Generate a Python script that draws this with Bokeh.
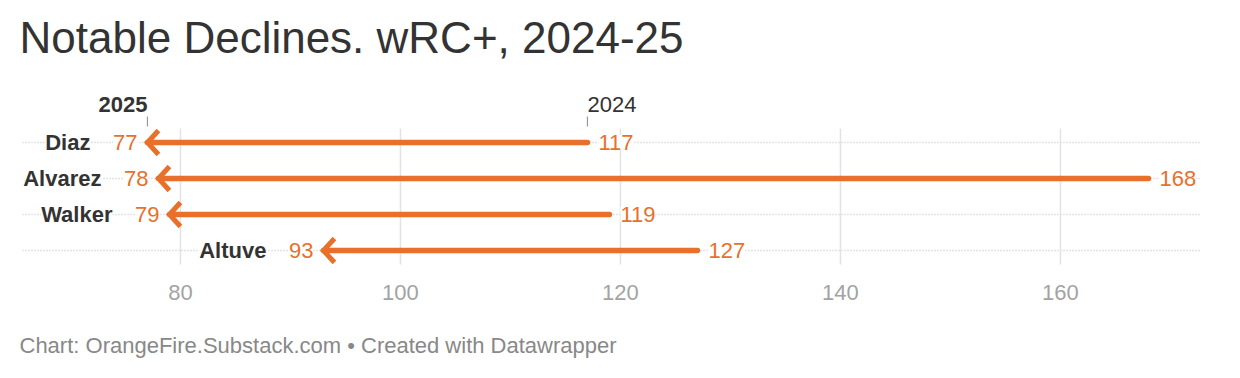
from bokeh.plotting import figure
from bokeh.models import ColumnDataSource, Range1d, Title
from bokeh.core.properties import value
from bokeh.embed import file_html
from bokeh.resources import INLINE

# ---- data ----
players = ["Diaz", "Alvarez", "Walker", "Altuve"]
wrc_2024 = [117, 168, 119, 127]
wrc_2025 = [77, 78, 79, 93]
x_ticks = [80, 100, 120, 140, 160]
year_labels = ["2025", "2024"]
title_text = "Notable Declines. wRC+, 2024-25"
footer_text = "Chart: OrangeFire.Substack.com \u2022 Created with Datawrapper"

# ---- style ----
ORANGE = "#e8702a"
DARK = "#333333"
FONT = "Liberation Sans"
W, H = 1232, 370
MB_L, MB_R, MB_T, MB_B = 22, 32, 71, 98
X_LO, X_HI = 65.64, 172.73
Y_TOP, Y_BOT = -1.972, 3.611          # row units (inverted)
frame_w = W - MB_L - MB_R
frame_h = H - MB_T - MB_B
px_x = frame_w / (X_HI - X_LO)
px_y = frame_h / (Y_BOT - Y_TOP)

rows = list(range(len(players)))
head_dx = 11 / px_x
head_dy = 12 / px_y

src = ColumnDataSource(dict(
    player=players, y=rows, v24=wrc_2024, v25=wrc_2025,
    l24=[str(v) for v in wrc_2024], l25=[str(v) for v in wrc_2025],
))
heads = ColumnDataSource(dict(
    xs=[[v + head_dx, v, v + head_dx] for v in wrc_2025],
    ys=[[r - head_dy, r, r + head_dy] for r in rows],
))

p = figure(width=W, height=H, output_backend="svg", toolbar_location=None,
           x_range=Range1d(X_LO, X_HI), y_range=Range1d(Y_BOT, Y_TOP),
           y_axis_location=None, title=title_text,
           min_border_left=MB_L, min_border_right=MB_R,
           min_border_top=MB_T, min_border_bottom=MB_B)
p.outline_line_color = None
p.xgrid.visible = False
p.ygrid.visible = False

p.title.text_font = FONT
p.title.text_font_size = "44px"
p.title.text_font_style = "normal"
p.title.text_color = DARK
p.title.align = "left"
p.title.offset = -3
p.title.standoff = 19

p.xaxis.ticker = x_ticks
p.xaxis.axis_line_color = None
p.xaxis.major_tick_line_color = None
p.xaxis.minor_tick_line_color = None
p.xaxis.major_label_text_font = FONT
p.xaxis.major_label_text_font_size = "22px"
p.xaxis.major_label_text_color = "#a3a3a3"
p.xaxis.major_label_standoff = 6

# spacer between the axis and the source line, then the source line
p.add_layout(Title(text=" ", text_font=FONT, text_font_size="22px", standoff=0), "below")
p.add_layout(Title(text=footer_text, text_font=FONT, text_font_size="22px",
                   text_font_style="normal", text_color="#888888",
                   align="left", offset=-3, standoff=2), "below")

# dotted row lines
p.hspan(y="y", source=src, line_color="#c8c8c8", line_width=1.5, line_dash="1 2")

# vertical grid lines
grid_top = -14 / px_y
grid_bot = rows[-1] + 14 / px_y
p.segment(x0=x_ticks, x1=x_ticks, y0=[grid_top] * len(x_ticks), y1=[grid_bot] * len(x_ticks),
          line_color="#e3e3e3", line_width=1.5)

# shafts
p.segment(x0="v24", x1="v25", y0="y", y1="y", source=src,
          line_color=ORANGE, line_width=5.5, line_cap="round")
# arrow heads
p.multi_line(xs="xs", ys="ys", source=heads, line_color=ORANGE, line_width=5,
             line_join="miter", line_cap="butt")

F = value(FONT)
# value labels
p.text(x="v25", y="y", text="l25", source=src, x_offset=-10, text_align="right",
       text_baseline="middle", text_font=F, text_font_size="22px", text_color=ORANGE,
       background_fill_color="white")
p.text(x="v24", y="y", text="l24", source=src, x_offset=11, text_align="left",
       text_baseline="middle", text_font=F, text_font_size="22px", text_color=ORANGE,
       background_fill_color="white")
# names
p.text(x="v25", y="y", text="player", source=src, x_offset=-57, text_align="right",
       text_baseline="middle", text_font=F, text_font_size="22px", text_color=DARK,
       text_font_style="bold", background_fill_color="white")

# year headers above first row
hdr_y = -38 / px_y
tick_y0 = -26 / px_y
tick_y1 = -16 / px_y
p.segment(x0=[wrc_2025[0], wrc_2024[0]], x1=[wrc_2025[0], wrc_2024[0]],
          y0=[tick_y0] * 2, y1=[tick_y1] * 2, line_color="#999999", line_width=1.2)
p.text(x=[wrc_2025[0]], y=[hdr_y], text=[year_labels[0]], text_align="right",
       text_baseline="middle", text_font=F, text_font_size="22px",
       text_font_style="bold", text_color=DARK)
p.text(x=[wrc_2024[0]], y=[hdr_y], text=[year_labels[1]], text_align="left",
       text_baseline="middle", text_font=F, text_font_size="22px",
       text_color=DARK)

open("out.html", "w").write(file_html(p, INLINE))
